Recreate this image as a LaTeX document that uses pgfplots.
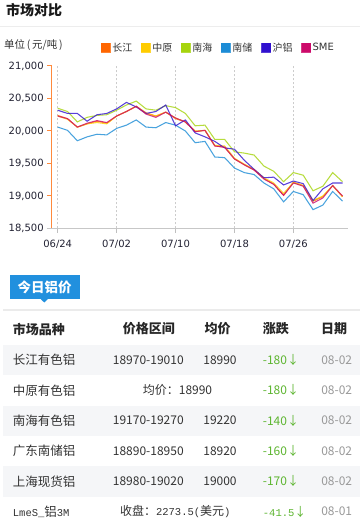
\documentclass[border=0pt]{standalone}
\usepackage{pgfplots}
\pgfplotsset{compat=1.18}
\usepackage{pgfplotstable}
\usepackage{fontspec}
\setmainfont{DejaVu Sans}
\newfontfamily\cjk{Noto Sans CJK SC}
\newfontfamily\mono{Liberation Mono}

\definecolor{cCJ}{HTML}{FF6600}
\definecolor{cZY}{HTML}{FFCC00}
\definecolor{cNH}{HTML}{A6D40E}
\definecolor{cNC}{HTML}{1C8CD6}
\definecolor{cHL}{HTML}{3010CF}
\definecolor{cSME}{HTML}{CC0A6A}
\definecolor{axor}{HTML}{FF8A3D}
\definecolor{txt}{HTML}{333333}
\definecolor{tick}{HTML}{222233}
\definecolor{upg}{HTML}{5DB530}
\definecolor{tabblue}{HTML}{2190DE}
\definecolor{rowbg}{HTML}{F5F6F8}
\definecolor{datec}{HTML}{999999}

\pgfplotstableread{
i cj zy nh nc hl sme
0 20240 20230 20350 20060 20320 20230
1 20190 20180 20300 20010 20270 20190
2 20060 20060 20140 19850 20270 20060
3 20110 20110 20210 19910 20150 20120
4 20150 20130 20240 19950 20250 20160
5 20120 20110 20250 19940 20270 20130
6 20230 20230 20320 20040 20340 20230
7 20300 20300 20400 20090 20440 20300
8 20380 20380 20460 20170 20370 20380
9 20280 20270 20340 20060 20270 20260
10 20230 20230 20320 20050 20300 20210
11 20290 20290 20390 20130 20400 20290
12 20190 20200 20360 20090 20080 20200
13 20140 20140 20270 20000 20170 20140
14 19990 20000 20080 19820 19970 19990
15 20010 20010 20090 19840 19910 20010
16 19770 19780 19870 19600 19840 19770
17 19750 19770 19870 19590 19740 19750
18 19570 19580 19680 19430 19720 19570
19 19480 19490 19660 19360 19550 19480
20 19400 19410 19630 19330 19410 19400
21 19270 19280 19460 19200 19280 19260
22 19180 19200 19380 19110 19290 19180
23 19010 19040 19220 18910 19170 19010
24 19210 19210 19360 19070 19230 19200
25 19160 19160 19320 19020 19190 19150
26 18920 18930 19080 18790 18930 18890
27 18990 19000 19150 18860 19110 18970
28 19160 19160 19360 19070 19200 19160
29 18990 18990 19220 18920 19200 19000
}\prices

\begin{document}
\begin{tikzpicture}[x=1pt,y=1pt,
  name/.style={anchor=west, inner sep=0pt, text=txt, font=\cjk\fontsize{12.5}{14}\selectfont},
  num/.style={anchor=center, inner sep=0pt, text=txt, font=\cjk\fontsize{12}{14}\selectfont},
  chg/.style={anchor=west, inner sep=0pt, text=upg, font=\cjk\fontsize{12}{14}\selectfont},
  dt/.style={anchor=center, inner sep=0pt, text=datec, font=\cjk\fontsize{12}{14}\selectfont},
  hdr/.style={inner sep=0pt, text=black!85, font=\cjk\bfseries\fontsize{13}{15}\selectfont},
  ln/.style={line width=1.05pt, draw opacity=0.8, mark=none}]
\path[use as bounding box, fill=white] (0,0) rectangle (360,527);

% title
\node[anchor=west, inner sep=0pt, font=\cjk\bfseries\fontsize{14}{16}\selectfont, text=black!90] at (6,516.5) {市场对比};
\draw[black!7, line width=1pt] (0,500.3) -- (360,500.3);
\node[anchor=west, inner sep=0pt, font=\cjk\fontsize{10.5}{12}\selectfont, text=txt] at (4,482) {单位\,(\,元/吨\,)};

\begin{axis}[
  at={(51.7pt,298.5pt)}, anchor=south west, scale only axis,
  width=296.3pt, height=162.5pt,
  xmin=-0.61, xmax=29.56, ymin=18500, ymax=21000,
  axis x line*=bottom, axis y line*=left,
  x axis line style={draw=black!22, line width=0.8pt},
  y axis line style={draw=axor, line width=1pt},
  xtick={0,6,12,18,24}, xticklabels={06/24,07/02,07/10,07/18,07/26},
  ytick={18500,19000,...,21000},
  scaled y ticks=false,
  xmajorgrids,
  major x grid style={draw=black!20, dash pattern=on 2pt off 2pt, line width=0.6pt},
  tick align=outside, major tick length=4.5pt,
  x tick style={draw=black!25, line width=0.6pt},
  y tick style={draw=axor, line width=1pt},
  xticklabel style={font=\fontsize{10}{12}\selectfont, text=tick, yshift=-4pt},
  yticklabel style={font=\fontsize{10}{12}\selectfont, text=tick,
    /pgf/number format/fixed, /pgf/number format/1000 sep={,},
    /pgf/number format/assume math mode=true},
  legend columns=6,
  legend image code/.code={\fill[#1] (0pt,-4.5pt) rectangle (9pt,4.5pt);},
  legend style={at={(0.165,1.1126)}, anchor=west, draw=none, fill=none, inner sep=0pt,
    font=\fontsize{10}{12}\selectfont, text=txt,
    nodes={inner sep=1.5pt},
    /tikz/every even column/.append style={column sep=7pt}},
  clip=false,
]
\addplot[ln, color=cCJ] table[x=i, y=cj] {\prices};
\addlegendentry{{\cjk 长江}}
\addplot[ln, color=cZY] table[x=i, y=zy] {\prices};
\addlegendentry{{\cjk 中原}}
\addplot[ln, color=cNH] table[x=i, y=nh] {\prices};
\addlegendentry{{\cjk 南海}}
\addplot[ln, color=cNC] table[x=i, y=nc] {\prices};
\addlegendentry{{\cjk 南储}}
\addplot[ln, color=cHL] table[x=i, y=hl] {\prices};
\addlegendentry{{\cjk 沪铝}}
\addplot[ln, color=cSME] table[x=i, y=sme] {\prices};
\addlegendentry{SME}
\end{axis}
\draw[black!22, line width=0.8pt] (46.7,298.5) -- (51.7,298.5);

% tab
\fill[tabblue] (10,227.7) rectangle (80,252);
\fill[tabblue] (40.8,227.8) -- (47.8,227.8) -- (44.3,224.5) -- cycle;
\node[inner sep=0pt, text=white, font=\cjk\bfseries\fontsize{13.5}{15}\selectfont] at (44.5,240) {今日铝价};
\draw[black!8, line width=1.5pt] (3.3,217) -- (360,217);

% row shading
\fill[rowbg] (3.3,151.7) rectangle (360,182);
\fill[rowbg] (3.3,91) rectangle (360,121.3);
\fill[rowbg] (3.3,30.3) rectangle (360,60.7);

% header
\node[hdr, anchor=west] at (12.7,198) {市场品种};
\node[hdr] at (148.8,198) {价格区间};
\node[hdr] at (217.5,198) {均价};
\node[hdr] at (275.8,198) {涨跌};
\node[hdr] at (334,198) {日期};

% rows
\node[name] at (12.7,167) {长江有色铝};
\node[num] at (148.3,167) {18970-19010};
\node[num] at (220,167) {18990};
\node[chg] at (262.7,167) {-180↓};
\node[dt] at (336.7,167) {08-02};

\node[name] at (12.7,136.7) {中原有色铝};
\node[num] at (177.5,136.7) {均价：18990};
\node[chg] at (262.7,136.7) {-180↓};
\node[dt] at (336.7,136.7) {08-02};

\node[name] at (12.7,106.3) {南海有色铝};
\node[num] at (148.3,106.3) {19170-19270};
\node[num] at (220,106.3) {19220};
\node[chg] at (262.7,106.3) {-140↓};
\node[dt] at (336.7,106.3) {08-02};

\node[name] at (12.7,76) {广东南储铝};
\node[num] at (148.3,76) {18890-18950};
\node[num] at (220,76) {18920};
\node[chg] at (262.7,76) {-160↓};
\node[dt] at (336.7,76) {08-02};

\node[name] at (12.7,45.7) {上海现货铝};
\node[num] at (148.3,45.7) {18980-19020};
\node[num] at (220,45.7) {19000};
\node[chg] at (262.7,45.7) {-170↓};
\node[dt] at (336.7,45.7) {08-02};

\node[name] at (12.7,15.3) {{\mono\fontsize{10.5}{12}\selectfont LmeS\_}铝{\mono\fontsize{10.5}{12}\selectfont 3M}};
\node[num] at (175.3,15.3) {收盘：{\mono\fontsize{10.5}{12}\selectfont 2273.5(}美元{\mono\fontsize{10.5}{12}\selectfont )}};
\node[chg] at (262.7,15.3) {{\mono\fontsize{10.5}{12}\selectfont -41.5}↓};
\node[dt] at (336.7,15.3) {08-01};
\end{tikzpicture}
\end{document}
